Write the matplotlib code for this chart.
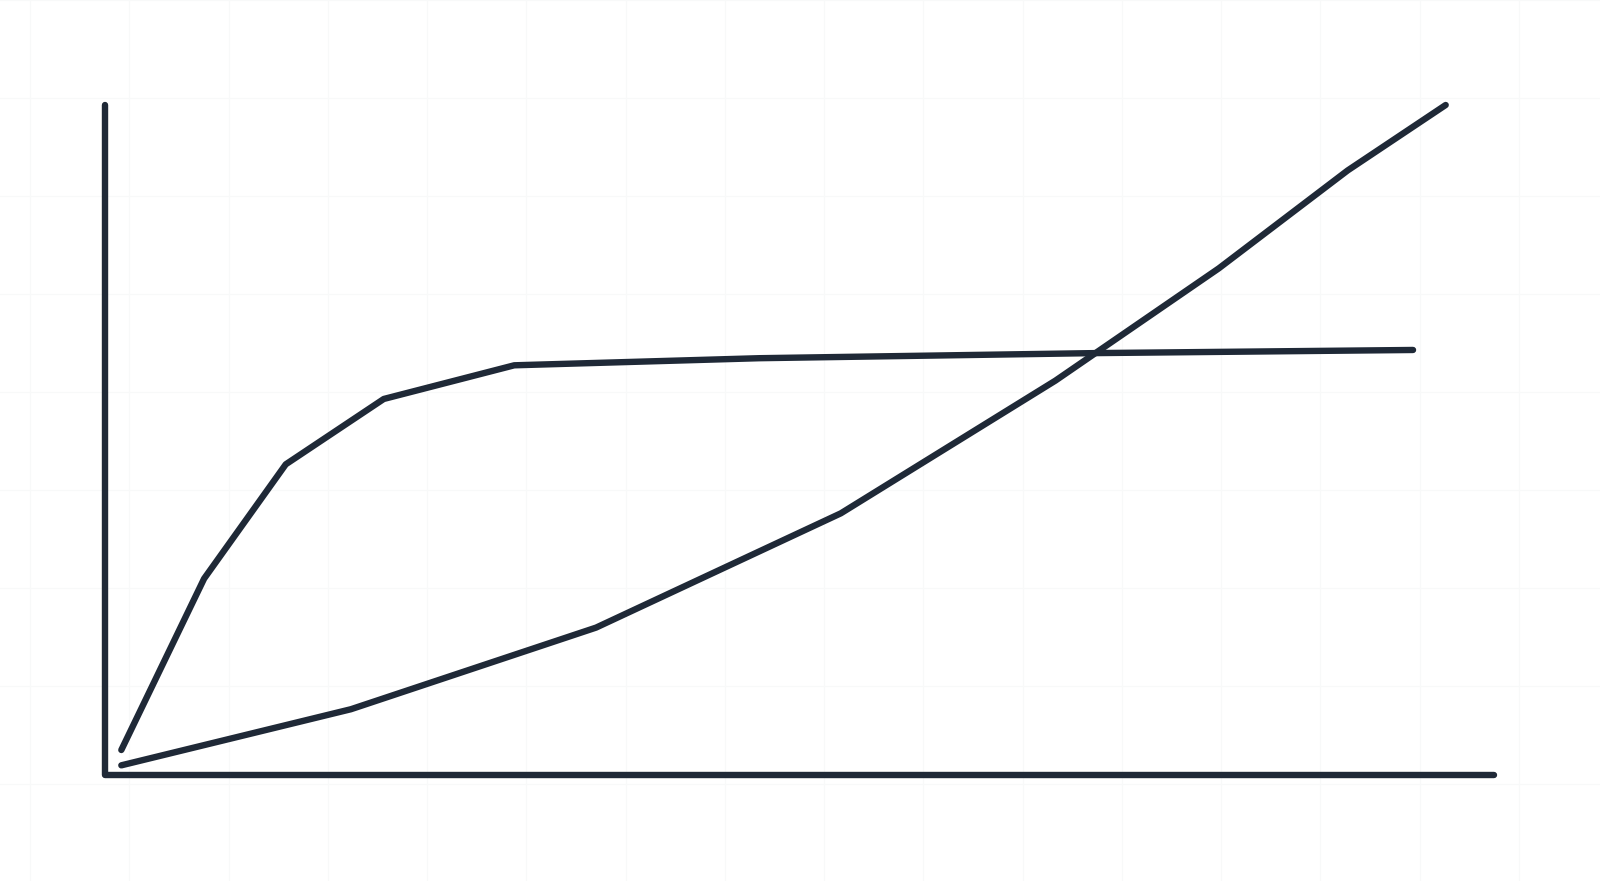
import numpy as np
import matplotlib
matplotlib.use("Agg")
import matplotlib.pyplot as plt

# Data (arbitrary units)
series_a_x = [1.0, 6.07, 11.07, 17.07, 25.06, 40.06, 60.56, 80.1]
series_a_y = [3.66, 29.26, 46.33, 56.09, 61.12, 62.18, 62.94, 63.41]
series_b_x = [1.0, 15.06, 30.07, 45.06, 58.2, 68.2, 76.1, 82.1]
series_b_y = [1.37, 9.75, 21.94, 39.01, 58.83, 75.59, 90.23, 100.0]
axis_x_max = 85.06
axis_y_max = 100.0

INK = "#1f2937"
W, H, DPI = 1600, 881, 100

fig = plt.figure(figsize=(W / DPI, H / DPI), dpi=DPI)
fig.patch.set_facecolor("white")

# very faint paper grid in the background
bg = fig.add_axes([0, 0, 1, 1], zorder=0)
bg.set_xlim(0, W)
bg.set_ylim(H, 0)
bg.set_xticks(np.arange(30, W, 99.25))
bg.set_yticks(np.arange(89 - 99.1, H, 99.1))
bg.grid(True, color="#f8f9f9", linewidth=0.8)
bg.tick_params(length=0, labelbottom=False, labelleft=False)
for s in bg.spines.values():
    s.set_visible(False)
bg.set_facecolor("white")

# main chart axes (16.33 px per x unit, 6.695 px per y unit, origin at (105, 774.5))
sx, sy = 16.33, 6.695
ox, oy = 105.0, 774.5
ax = fig.add_axes([0, 0, 1, 1], zorder=1)
ax.patch.set_alpha(0)
ax.set_xlim(-ox / sx, (W - ox) / sx)
ax.set_ylim(-(H - oy) / sy, oy / sy)
ax.axis("off")

lw = 4.6
common = dict(color=INK, linewidth=lw, solid_capstyle="round", solid_joinstyle="round")
ax.plot([0, 0, axis_x_max], [axis_y_max, 0, 0], **common)
ax.plot(series_a_x, series_a_y, **common)
ax.plot(series_b_x, series_b_y, **common)

fig.savefig("out.png", dpi=DPI, facecolor="white")
